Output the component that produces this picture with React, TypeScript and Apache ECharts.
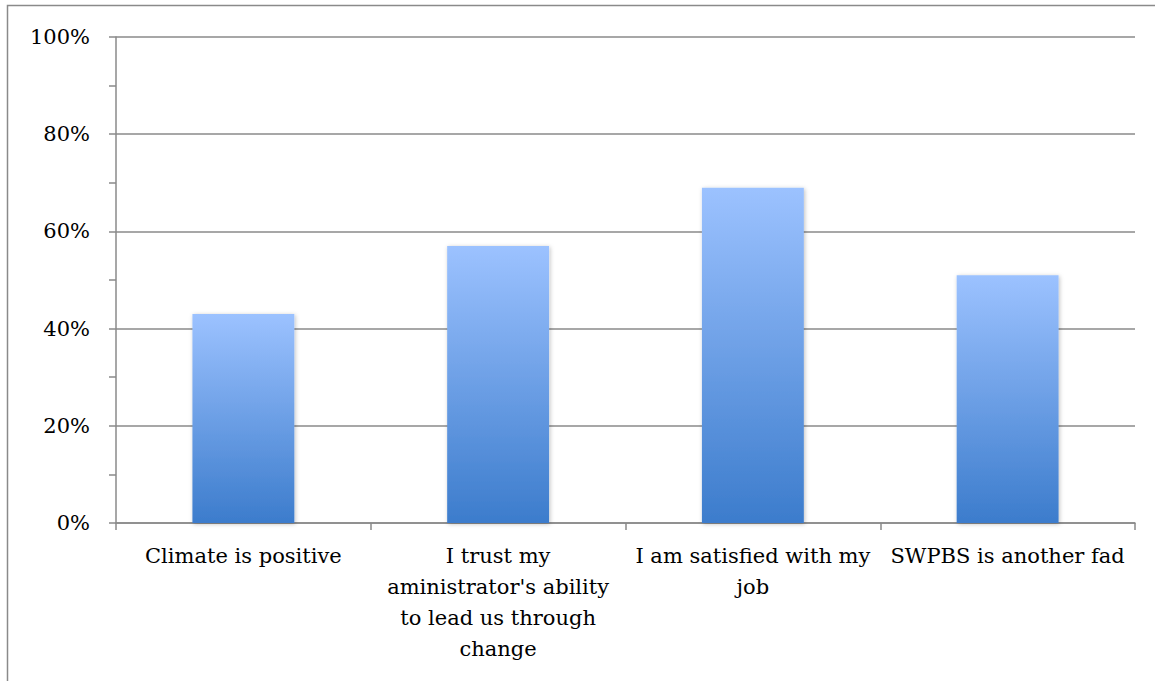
import React, { useEffect, useRef } from "react";
import * as echarts from "echarts";

const categories = [
  "Climate is positive",
  "I trust my aministrator's ability to lead us through change",
  "I am satisfied with my job",
  "SWPBS is another fad",
];
const values = [43, 57, 69, 51];
const yTicks = [0, 20, 40, 60, 80, 100];

function wrap(s: string, max: number): string {
  const words = s.split(" ");
  const lines: string[] = [];
  let cur = "";
  for (const w of words) {
    const t = cur ? cur + " " + w : w;
    if (t.length > max && cur) {
      lines.push(cur);
      cur = w;
    } else cur = t;
  }
  if (cur) lines.push(cur);
  return lines.join("\n");
}

export default function App() {
  const ref = useRef<HTMLDivElement>(null);
  useEffect(() => {
    if (!ref.current) return;
    const chart = echarts.init(ref.current, undefined, { renderer: "svg" });
    const font = "'DejaVu Serif', 'Liberation Serif', serif";
    chart.setOption({
      animation: false,
      backgroundColor: "#fff",
      grid: { left: 116, right: 20, top: 37, bottom: 158, containLabel: false },
      graphic: [
        {
          type: "rect",
          shape: { x: 7.5, y: 5.5, width: 1170, height: 700 },
          style: { fill: "none", stroke: "#8a8a8a", lineWidth: 1.5 },
          silent: true,
        },
      ],
      xAxis: {
        type: "category",
        data: categories,
        axisLine: { show: true, lineStyle: { color: "#8a8a8a", width: 1.5 } },
        axisTick: { show: true, length: 7, lineStyle: { color: "#8a8a8a", width: 1.5 } },
        axisLabel: {
          interval: 0,
          color: "#000",
          fontFamily: font,
          fontSize: 21,
          lineHeight: 31,
          margin: 17,
          formatter: (v: string) => wrap(v, 22),
        },
      },
      yAxis: {
        type: "value",
        min: yTicks[0],
        max: yTicks[yTicks.length - 1],
        interval: 20,
        axisLine: { show: true, lineStyle: { color: "#8a8a8a", width: 1.5 } },
        axisTick: { show: true, length: 7, lineStyle: { color: "#8a8a8a", width: 1.5 } },
        minorTick: { show: true, splitNumber: 2, length: 7, lineStyle: { color: "#8a8a8a", width: 1.5 } },
        splitLine: { show: true, lineStyle: { color: "#8a8a8a", width: 1.5 } },
        axisLabel: {
          color: "#000",
          fontFamily: font,
          fontSize: 21,
          margin: 26,
          formatter: (v: number) => v + "%",
        },
      },
      series: [
        {
          type: "bar",
          data: values,
          barWidth: "40%",
          itemStyle: {
            color: new echarts.graphic.LinearGradient(0, 0, 0, 1, [
              { offset: 0, color: "#9cc2ff" },
              { offset: 1, color: "#3c7ccc" },
            ]),
            shadowBlur: 4,
            shadowColor: "rgba(0,0,0,0.25)",
            shadowOffsetX: 1,
            shadowOffsetY: 1,
          },
        },
      ],
    });
    return () => chart.dispose();
  }, []);
  return (
    <div
      ref={ref}
      style={{ position: "fixed", left: 0, top: 0, width: 1155, height: 681, background: "#fff" }}
    />
  );
}
